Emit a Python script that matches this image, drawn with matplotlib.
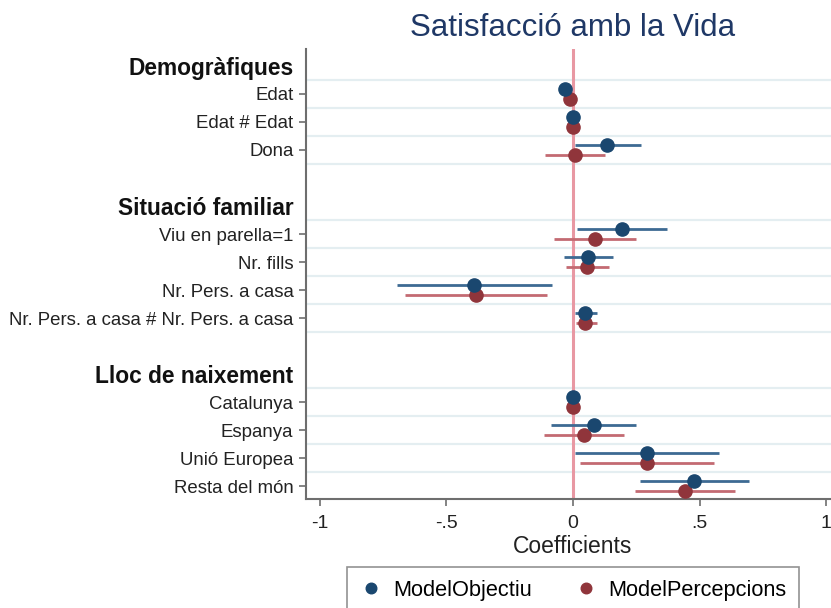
import matplotlib
matplotlib.use("Agg")
import matplotlib.pyplot as plt
import numpy as np

plt.rcParams['font.family'] = ['Liberation Sans', 'DejaVu Sans']

# ---- data ----
row_labels = ["Demogràfiques", "Edat", "Edat # Edat", "Dona", "",
              "Situació familiar", "Viu en parella=1", "Nr. fills", "Nr. Pers. a casa",
              "Nr. Pers. a casa # Nr. Pers. a casa", "",
              "Lloc de naixement", "Catalunya", "Espanya", "Unió Europea", "Resta del món"]
headings = ["Demogràfiques", "Situació familiar", "Lloc de naixement"]

coef_names = ["Edat", "Edat # Edat", "Dona", "Viu en parella=1", "Nr. fills",
              "Nr. Pers. a casa", "Nr. Pers. a casa # Nr. Pers. a casa",
              "Catalunya", "Espanya", "Unió Europea", "Resta del món"]

obj_b  = [-0.033, 0.000, 0.134, 0.194, 0.060, -0.392, 0.049, 0.000, 0.083, 0.294, 0.478]
obj_lo = [-0.038, -0.002, 0.007, 0.016, -0.036, -0.695, 0.007, 0.000, -0.087, 0.007, 0.265]
obj_hi = [-0.028, 0.002, 0.267, 0.370, 0.158, -0.084, 0.093, 0.000, 0.250, 0.578, 0.695]

per_b  = [-0.012, 0.000, 0.007, 0.087, 0.056, -0.385, 0.049, 0.000, 0.043, 0.291, 0.441]
per_lo = [-0.017, -0.002, -0.111, -0.077, -0.029, -0.664, 0.010, 0.000, -0.116, 0.027, 0.245]
per_hi = [-0.007, 0.002, 0.127, 0.250, 0.143, -0.103, 0.093, 0.000, 0.200, 0.558, 0.641]

series_names = ["ModelObjectiu", "ModelPercepcions"]
xticks = [-1, -0.5, 0, 0.5, 1]
xtick_labels = ["-1", "-.5", "0", ".5", "1"]

# ---- styling ----
blue = '#1a476f'
red = '#90353b'
blue_ci = '#3d6a93'
red_ci = '#c36a72'
grid_c = '#e4eef1'
zero_c = '#e898a3'
spine_c = '#6e6e6e'

fig = plt.figure(figsize=(8.31, 6.08), dpi=100)
W, H = 831, 608
ax = fig.add_axes([306 / W, 1 - 499 / H, 534 / W, 450 / H])

ypos = {lab: i for i, lab in enumerate(row_labels) if lab}
off = 0.18

# grid lines between coefficients
groups = [["Edat", "Edat # Edat", "Dona"],
          ["Viu en parella=1", "Nr. fills", "Nr. Pers. a casa", "Nr. Pers. a casa # Nr. Pers. a casa"],
          ["Catalunya", "Espanya", "Unió Europea", "Resta del món"]]
for g in groups:
    ys = [ypos[n] for n in g]
    for yb in np.arange(min(ys) - 0.5, max(ys) + 0.51, 1.0):
        ax.axhline(yb, color=grid_c, lw=1.6, zorder=0)

ax.axvline(0, color=zero_c, lw=2.2, zorder=1)

for name, b, lo, hi, pb, plo, phi in zip(coef_names, obj_b, obj_lo, obj_hi, per_b, per_lo, per_hi):
    y = ypos[name]
    ax.plot([lo, hi], [y - off, y - off], color=blue_ci, lw=2, zorder=2, solid_capstyle='butt')
    ax.plot([plo, phi], [y + off, y + off], color=red_ci, lw=2, zorder=2, solid_capstyle='butt')

yb_list = [ypos[n] - off for n in coef_names]
yr_list = [ypos[n] + off for n in coef_names]
ax.plot(obj_b, yb_list, 'o', color=blue, ms=9.5, zorder=4, label=series_names[0], linestyle='none')
ax.plot(per_b, yr_list, 'o', color=red, ms=9.5, zorder=3, label=series_names[1], linestyle='none')

ax.set_xlim(-1.055, 1.055)
ax.set_ylim(15.45, -0.6)

ax.set_xticks(xticks)
ax.set_xticklabels(xtick_labels, fontsize=14, color='#222222')

tick_pos = [i for i, lab in enumerate(row_labels) if lab]
ax.set_yticks(tick_pos)
ax.set_yticklabels([row_labels[i] for i in tick_pos], fontsize=13.4, color='#222222')
for t, i in zip(ax.yaxis.get_major_ticks(), tick_pos):
    if row_labels[i] in headings:
        t.tick1line.set_visible(False)
        t.label1.set_fontweight('bold')
        t.label1.set_fontsize(16.4)
        t.label1.set_color('#111111')

ax.tick_params(axis='both', direction='out', length=5, width=1.2, color=spine_c, pad=4)
ax.tick_params(axis='x', pad=6.5)
for s in ['top', 'right']:
    ax.spines[s].set_visible(False)
for s in ['left', 'bottom']:
    ax.spines[s].set_color(spine_c)
    ax.spines[s].set_linewidth(1.5)

ax.set_xlabel("Coefficients", fontsize=16.5, color='#222222', labelpad=2)

fig.text(573 / W, 1 - 28 / H, "Satisfacció amb la Vida", ha='center', va='center',
         fontsize=22.5, color='#1f3866')

leg = fig.legend(loc='upper center', bbox_to_anchor=(573 / W, 1 - 567 / H), ncol=2,
                 fontsize=15.7, frameon=True, fancybox=False, edgecolor='#777777',
                 handletextpad=0.5, columnspacing=2.0, borderpad=0.6, handlelength=1.0,
                 markerscale=0.8, borderaxespad=0)
leg.get_frame().set_linewidth(1.2)

fig.savefig("out.png", dpi=100)
